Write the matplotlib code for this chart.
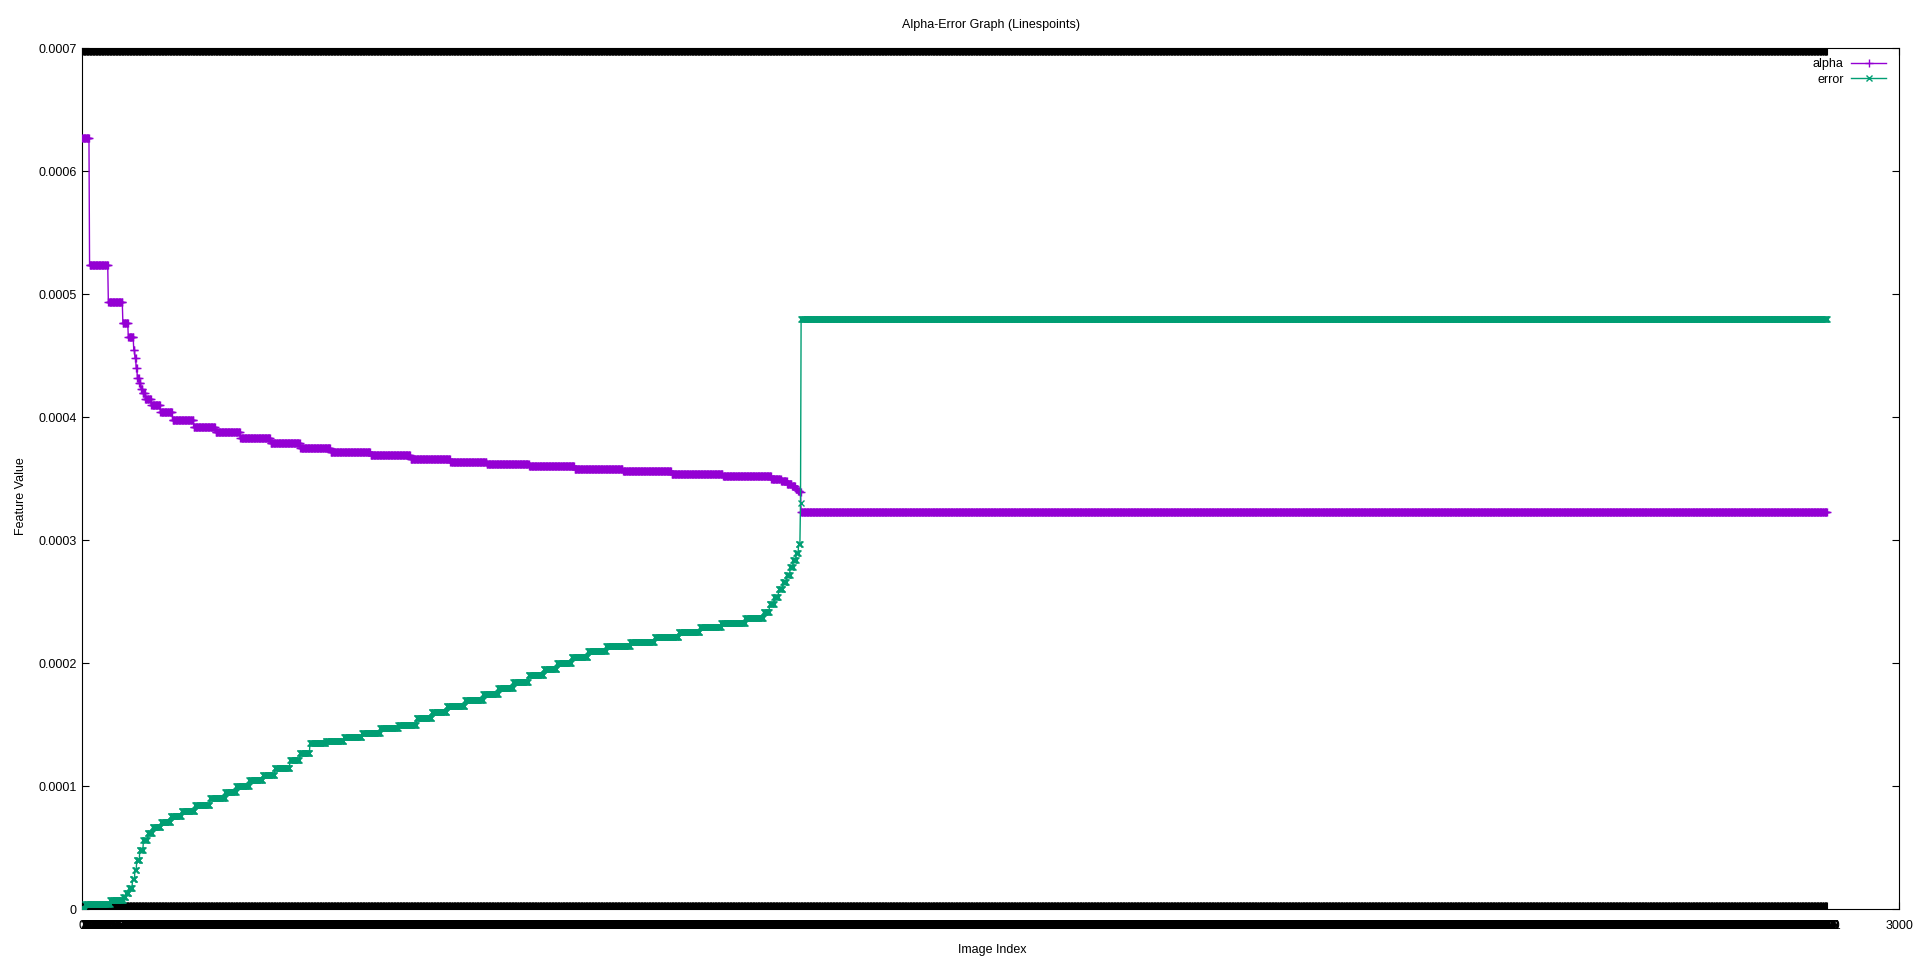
import numpy as np
import matplotlib
matplotlib.use("Agg")
import matplotlib.pyplot as plt

# ---- data (run-length encoded: value, number of consecutive images) ----
alpha_levels = [0.000627, 0.0005236, 0.000494, 0.000477, 0.000465,
                0.000455, 0.000448, 0.000440, 0.000432, 0.000428, 0.000423, 0.000420,
                0.000415, 0.000410, 0.000404, 0.000398, 0.000392, 0.000388, 0.000383,
                0.000379, 0.000375, 0.000372, 0.000369, 0.000366, 0.000364, 0.000362,
                0.000360, 0.000358, 0.000356, 0.000354, 0.000352, 0.000350, 0.000348,
                0.000346, 0.000344, 0.000342, 0.000340, 0.000339, 0.000323]
alpha_counts = [12, 31, 24, 9, 9,
                2, 2, 2, 3, 3, 3, 4,
                10, 15, 20, 35, 36, 41, 50,
                49, 50, 66, 66, 66, 60, 70,
                75, 80, 80, 85, 80, 16, 10,
                8, 6, 4, 3, 2, 1695]

error_levels = [0.0, 0.000004, 0.0000073, 0.000010, 0.000013, 0.000017, 0.000024,
                0.000032, 0.000040, 0.000048, 0.000056, 0.000062, 0.000067, 0.000071,
                0.000076, 0.000080, 0.000085, 0.000090, 0.000095, 0.000100, 0.000105,
                0.000109, 0.000115, 0.000121, 0.000127, 0.000135, 0.000137, 0.000140,
                0.000143, 0.000147, 0.000150, 0.000155, 0.000160, 0.000165, 0.000170,
                0.000175, 0.000180, 0.000185, 0.000190, 0.000195, 0.000200, 0.000205,
                0.000210, 0.000214, 0.000217, 0.000221, 0.000225, 0.000229, 0.000233,
                0.000237, 0.000242, 0.000248, 0.000254, 0.000260, 0.000266, 0.000272,
                0.000278, 0.000284, 0.000290, 0.000297, 0.000330, 0.000480]
error_counts = [5, 41, 22, 4, 5, 6, 4,
                3, 5, 6, 7, 8, 14, 16,
                18, 22, 25, 25, 18, 22, 22,
                20, 25, 16, 17, 26, 30, 30,
                30, 30, 30, 25, 25, 30, 30,
                25, 25, 25, 25, 22, 24, 27,
                30, 40, 40, 40, 35, 35, 40,
                30, 10, 8, 7, 7, 6, 6,
                5, 5, 4, 3, 1, 1695]

y_ticks = [0, 0.0001, 0.0002, 0.0003, 0.0004, 0.0005, 0.0006, 0.0007]
y_tick_labels = ["0", "0.0001", "0.0002", "0.0003", "0.0004", "0.0005", "0.0006", "0.0007"]
x_max = 3000

title = "Alpha-Error Graph (Linespoints)"
x_label = "Image Index"
y_label = "Feature Value"

alpha = np.repeat(alpha_levels, alpha_counts)
error = np.repeat(error_levels, error_counts)
x_alpha = np.arange(len(alpha))
x_error = np.arange(len(error))
n_points = max(len(alpha), len(error))
image_index = np.arange(n_points)

FONT = "Liberation Sans"
FS = 9
plt.rcParams["font.family"] = [FONT, "DejaVu Sans"]

W, H = 1920, 961
fig = plt.figure(figsize=(W / 100, H / 100), dpi=100)
left, right, top, bottom = 82.3, 1899, 48.5, 909
ax = fig.add_axes([left / W, 1 - bottom / H, (right - left) / W, (bottom - top) / H])

c_alpha = "#9400D3"
c_error = "#009E73"

ax.plot(x_alpha, alpha, color=c_alpha, lw=1, marker="+", ms=6, mew=1, label="alpha", zorder=3)
ax.plot(x_error, error, color=c_error, lw=1, marker="x", ms=5, mew=1, label="error", zorder=3)

ax.set_xlim(0, x_max)
ax.set_ylim(0, 0.0007)

# per-image ticks (dense, as in the original) plus the axis end label
xt = list(image_index) + [x_max]
xl = [str(i) for i in image_index] + [str(x_max)]
ax.set_xticks(xt)
ax.set_xticklabels(xl, fontsize=FS)
ax.set_yticks(y_ticks)
ax.set_yticklabels(y_tick_labels, fontsize=FS)

ax.tick_params(axis="x", direction="in", length=5, width=0.8, top=True, bottom=True, pad=8)
ax.tick_params(axis="y", direction="in", length=5, width=0.8, left=True, right=True, pad=4)
for s in ax.spines.values():
    s.set_linewidth(0.8)
    s.set_color("black")

fig.text(991 / W, 1 - 25 / H, title, ha="center", va="center", fontsize=FS)
fig.text(992 / W, 1 - 950 / H, x_label, ha="center", va="center", fontsize=FS)
fig.text(21 / W, 1 - 496 / H, y_label, ha="center", va="center", rotation=90, fontsize=FS)

leg = ax.legend(loc="upper right", bbox_to_anchor=((1886 - left) / (right - left), (bottom - 58) / (bottom - top)),
                frameon=False, markerfirst=False, fontsize=FS, handlelength=2.8, handletextpad=0.6,
                labelspacing=0.3, borderpad=0, borderaxespad=0, numpoints=1)

fig.savefig("out.png", dpi=100, facecolor="white")
